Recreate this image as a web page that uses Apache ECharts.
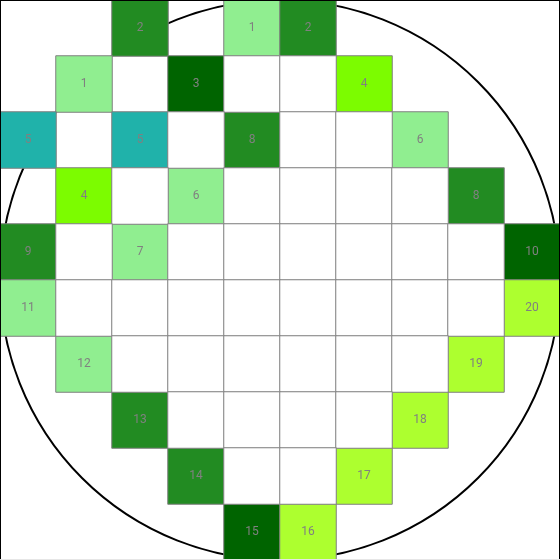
<!DOCTYPE html>
<html>
<head>
<meta charset="utf-8">
<script src="https://cdn.jsdelivr.net/npm/echarts@6/dist/echarts.min.js"></script>
<style>html,body{margin:0;padding:0;background:#fff}#c{width:560px;height:560px}</style>
</head>
<body>
<div id="c"></div>
<script>
// Grid categories (columns and rows of the wafer map)
const colCats = ['0','1','2','3','4','5','6','7','8','9'];
const rowCats = ['0','1','2','3','4','5','6','7','8','9'];

// Labelled (binned) dies: row, column, label, bin
const dieRow   = [0,0,0, 1,1,1, 2,2,2,2, 3,3,3, 4,4,4, 5,5, 6,6, 7,7, 8,8, 9,9];
const dieCol   = [2,4,5, 1,3,6, 0,2,4,7, 1,3,8, 0,2,9, 0,9, 1,8, 2,7, 3,6, 4,5];
const dieLabel = [2,1,2, 1,3,4, 5,5,8,6, 4,6,8, 9,7,10, 11,20, 12,19, 13,18, 14,17, 15,16];
const dieBin   = ['B','A','B', 'A','C','D', 'E','E','B','A', 'D','A','B', 'B','A','C', 'A','F', 'A','F', 'B','F', 'B','F', 'C','F'];

// Wafer die outline: for each row, first and last column of the die area
const rowFirstCol = [4,3,2,1,0,0,1,2,3,4];
const rowLastCol  = [5,6,7,8,9,9,8,7,6,5];

// bin -> colour
const binColors = {A:'#90EE90', B:'#228B22', C:'#006400', D:'#7CFC00', E:'#20B2AA', F:'#ADFF2F', blank:'#ffffff'};

const data = [];
const taken = {};
for (let i = 0; i < dieRow.length; i++) {
  taken[dieRow[i] + '_' + dieCol[i]] = true;
  data.push({value: [dieCol[i], dieRow[i], dieLabel[i]], itemStyle: {color: binColors[dieBin[i]]}});
}
for (let r = 0; r < rowCats.length; r++) {
  for (let c = rowFirstCol[r]; c <= rowLastCol[r]; c++) {
    if (!taken[r + '_' + c]) {
      data.push({value: [c, r, 0], itemStyle: {color: binColors.blank}, label: {show: false}});
    }
  }
}

const chart = echarts.init(document.getElementById('c'));
chart.setOption({
  animation: false,
  backgroundColor: '#fff',
  grid: {left: 0, top: 0, right: 0, bottom: 0},
  xAxis: {type: 'category', data: colCats, show: false},
  yAxis: {type: 'category', data: rowCats, inverse: true, show: false},
  series: [{
    type: 'heatmap',
    z: 5,
    data: data,
    label: {
      show: true,
      color: '#808080',
      fontSize: 12,
      fontFamily: 'Roboto, sans-serif',
      formatter: p => (p.value[2] ? String(p.value[2]) : '')
    },
    itemStyle: {borderColor: '#808080', borderWidth: 1},
    emphasis: {disabled: true}
  }]
});

// Wafer circle and frame, positioned from the axes
const x0 = chart.convertToPixel({xAxisIndex: 0}, 0);
const x9 = chart.convertToPixel({xAxisIndex: 0}, 9);
const y0 = chart.convertToPixel({yAxisIndex: 0}, 0);
const y9 = chart.convertToPixel({yAxisIndex: 0}, 9);
const band = (x9 - x0) / 9;
const cx = (x0 + x9) / 2, cy = (y0 + y9) / 2;
const rad = (x9 - x0) / 2 + band / 2;
const L = x0 - band / 2, R = x9 + band / 2, T = y0 - band / 2, B = y9 + band / 2;
chart.setOption({
  graphic: [
    {type: 'circle', z: 0, silent: true, shape: {cx: cx, cy: cy, r: rad}, style: {fill: 'none', stroke: '#000', lineWidth: 2}},
    {type: 'line', z: 10, silent: true, shape: {x1: L + 0.5, y1: T, x2: L + 0.5, y2: B}, style: {stroke: '#000', lineWidth: 1}},
    {type: 'line', z: 10, silent: true, shape: {x1: L, y1: T + 0.5, x2: R, y2: T + 0.5}, style: {stroke: '#000', lineWidth: 1}},
    {type: 'line', z: 10, silent: true, shape: {x1: R - 0.5, y1: T, x2: R - 0.5, y2: B}, style: {stroke: '#000', lineWidth: 1}},
    {type: 'line', z: 10, silent: true, shape: {x1: L, y1: B - 0.5, x2: R, y2: B - 0.5}, style: {stroke: '#e6e6e6', lineWidth: 1}}
  ]
});
</script>
</body>
</html>
